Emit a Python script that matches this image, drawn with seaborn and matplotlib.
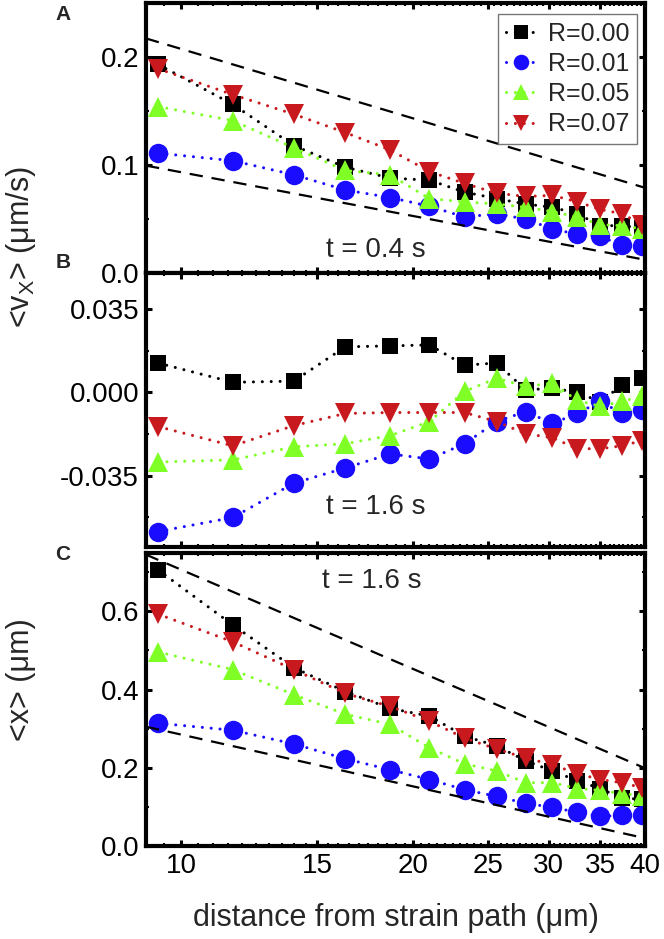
import numpy as np
import pandas as pd
import matplotlib
matplotlib.use('Agg')
import matplotlib.pyplot as plt
import seaborn as sns
from matplotlib.ticker import FixedLocator, MultipleLocator, NullFormatter, FixedFormatter

sns.set_style('ticks')
plt.rcParams['font.family'] = ['Liberation Sans', 'DejaVu Sans']
plt.rcParams['mathtext.fontset'] = 'custom'
plt.rcParams['mathtext.rm'] = 'Liberation Sans'
plt.rcParams['mathtext.it'] = 'Liberation Sans:italic'
plt.rcParams['axes.edgecolor'] = 'black'
plt.rcParams['xtick.color'] = 'black'
plt.rcParams['ytick.color'] = 'black'

# distanza dal percorso di deformazione (um)
distance = [9.33, 11.67, 14.0, 16.33, 18.67, 21.0, 23.33, 25.67, 28.0, 30.33, 32.67, 35.0, 37.33, 39.67]
r_labels = ['R=0.00', 'R=0.01', 'R=0.05', 'R=0.07']

# pannello A: <vx> a t = 0.4 s
vx_04_r000 = [0.193, 0.156, 0.118, 0.098, 0.088, 0.086, 0.075, 0.069, 0.064, 0.061, 0.055, 0.044, 0.044, 0.042]
vx_04_r001 = [0.111, 0.104, 0.091, 0.077, 0.070, 0.062, 0.052, 0.055, 0.050, 0.041, 0.036, 0.034, 0.026, 0.025]
vx_04_r005 = [0.154, 0.141, 0.116, 0.095, 0.091, 0.069, 0.066, 0.064, 0.061, 0.057, 0.052, 0.045, 0.044, 0.041]
vx_04_r007 = [0.189, 0.165, 0.147, 0.130, 0.114, 0.094, 0.083, 0.074, 0.071, 0.072, 0.066, 0.059, 0.055, 0.045]

# pannello B: <vx> a t = 1.6 s
vx_16_r000 = [0.0123, 0.0042, 0.0047, 0.0191, 0.0195, 0.0199, 0.0114, 0.0123, 0.0010, 0.0017, 0.0000, -0.0040, 0.0030, 0.0060]
vx_16_r001 = [-0.0585, -0.0526, -0.0382, -0.0318, -0.0259, -0.0280, -0.0216, -0.0123, -0.0081, -0.0131, -0.0089, -0.0038, -0.0089, -0.0076]
vx_16_r005 = [-0.0293, -0.0284, -0.0229, -0.0216, -0.0182, -0.0123, 0.0004, 0.0059, 0.0025, 0.0038, -0.0034, -0.0059, -0.0038, -0.0017]
vx_16_r007 = [-0.0144, -0.0225, -0.0140, -0.0089, -0.0085, -0.0085, -0.0085, -0.0123, -0.0174, -0.0191, -0.0237, -0.0237, -0.0225, -0.0203]

# pannello C: <x> a t = 1.6 s
x_16_r000 = [0.706, 0.565, 0.456, 0.395, 0.352, 0.332, 0.281, 0.256, 0.218, 0.192, 0.167, 0.147, 0.122, 0.120]
x_16_r001 = [0.314, 0.296, 0.261, 0.223, 0.195, 0.170, 0.144, 0.127, 0.109, 0.099, 0.086, 0.076, 0.078, 0.078]
x_16_r005 = [0.496, 0.451, 0.387, 0.337, 0.311, 0.251, 0.210, 0.192, 0.162, 0.162, 0.147, 0.142, 0.134, 0.129]
x_16_r007 = [0.593, 0.522, 0.451, 0.390, 0.357, 0.319, 0.276, 0.248, 0.225, 0.208, 0.185, 0.170, 0.162, 0.149]

# linee tratteggiate (inviluppo)
guide_x = [9, 40]
guide_A_upper = [0.217, 0.079]
guide_A_lower = [0.0995, 0.0125]
guide_C_upper = [0.745, 0.199]
guide_C_lower = [0.305, 0.020]

colori = ['#000000', '#1a0dff', '#80ff26', '#c81a1e']
marcatori = ['s', 'o', '^', 'v']
dimensioni = [12, 14, 15, 15]

fig = plt.figure(figsize=(6.64, 9.39), dpi=100)
left, width = 146 / 664, 499 / 664
axA = fig.add_axes([left, 1 - 273.3 / 939, width, 270.6 / 939])
axB = fig.add_axes([left, 1 - 547 / 939, width, 273.7 / 939])
axC = fig.add_axes([left, 1 - 846 / 939, width, 293.3 / 939])

pannelli = [
    (axA, [vx_04_r000, vx_04_r001, vx_04_r005, vx_04_r007]),
    (axB, [vx_16_r000, vx_16_r001, vx_16_r005, vx_16_r007]),
    (axC, [x_16_r000, x_16_r001, x_16_r005, x_16_r007]),
]

for ax, serie in pannelli:
    for vals, c, m, ms, lab in zip(serie, colori, marcatori, dimensioni, r_labels):
        sns.lineplot(x=distance, y=vals, ax=ax, color=c, marker=m, markersize=ms,
                     markeredgewidth=0, linestyle=(0, (0.01, 2.9)), linewidth=2.2,
                     dash_capstyle='round', label=lab, legend=False)

handles = axA.get_lines()[:4]

for ax, up, lo in [(axA, guide_A_upper, guide_A_lower), (axC, guide_C_upper, guide_C_lower)]:
    sns.lineplot(x=guide_x, y=up, ax=ax, color='k', linestyle=(0, (6, 4)), linewidth=1.6, legend=False)
    sns.lineplot(x=guide_x, y=lo, ax=ax, color='k', linestyle=(0, (6, 4)), linewidth=1.6, legend=False)

axA.set_ylim(0, 0.25)
axA.yaxis.set_major_locator(FixedLocator([0.0, 0.1, 0.2]))
axA.yaxis.set_major_formatter(FixedFormatter(['0.0', '0.1', '0.2']))
axA.yaxis.set_minor_locator(MultipleLocator(0.05))

axB.set_ylim(-0.065, 0.05)
axB.yaxis.set_major_locator(FixedLocator([-0.035, 0.0, 0.035]))
axB.yaxis.set_major_formatter(FixedFormatter(['-0.035', '0.000', '0.035']))
axB.yaxis.set_minor_locator(MultipleLocator(0.0175))

axC.set_ylim(0, 0.75)
axC.yaxis.set_major_locator(FixedLocator([0.0, 0.2, 0.4, 0.6]))
axC.yaxis.set_major_formatter(FixedFormatter(['0.0', '0.2', '0.4', '0.6']))
axC.yaxis.set_minor_locator(MultipleLocator(0.1))

xticks = [10, 15, 20, 25, 30, 35, 40]
for ax in [axA, axB, axC]:
    ax.set_xscale('log')
    ax.set_xlim(9, 40)
    ax.xaxis.set_major_locator(FixedLocator(xticks))
    ax.xaxis.set_minor_locator(MultipleLocator(0.5))
    ax.xaxis.set_minor_formatter(NullFormatter())
    if ax is axC:
        ax.xaxis.set_major_formatter(FixedFormatter([str(t) for t in xticks]))
    else:
        ax.xaxis.set_major_formatter(NullFormatter())
    for sp in ax.spines.values():
        sp.set_linewidth(3)
        sp.set_color('black')
        sp.set_visible(True)
    ax.tick_params(which='both', direction='in', top=True, right=True, color='k')
    ax.tick_params(which='major', length=4, width=2.2, labelsize=20, pad=5)
    ax.tick_params(which='minor', length=2.5, width=1.5)
    ax.set_xlabel('')
    ax.set_ylabel('')

axA.legend(handles=handles, labels=r_labels, loc='upper right', bbox_to_anchor=(0.984, 0.958),
           borderaxespad=0, fontsize=18, frameon=True, fancybox=False, edgecolor='#777777',
           framealpha=1, handlelength=1.2, handletextpad=0.5, labelspacing=0.25,
           borderpad=0.3, markerscale=0.8)
axA.get_legend().get_frame().set_linewidth(1)

axA.text(0.46, 0.086, 't = 0.4 s', transform=axA.transAxes, ha='center', va='center', fontsize=20)
axB.text(0.46, 0.145, 't = 1.6 s', transform=axB.transAxes, ha='center', va='center', fontsize=20)
axC.text(0.453, 0.904, 't = 1.6 s', transform=axC.transAxes, ha='center', va='center', fontsize=20)

fig.text(0.095, 1 - 14.5 / 939, 'A', ha='center', va='center', fontsize=15, fontweight='bold')
fig.text(0.095, 1 - 262 / 939, 'B', ha='center', va='center', fontsize=15, fontweight='bold')
fig.text(0.095, 1 - 555 / 939, 'C', ha='center', va='center', fontsize=15, fontweight='bold')

fig.text(21 / 664, 1 - 247 / 939, r'<v$_\mathrm{X}$> (μm/s)', rotation=90, ha='center', va='center', fontsize=22)
fig.text(21 / 664, 1 - 680 / 939, '<x> (μm)', rotation=90, ha='center', va='center', fontsize=22)
fig.text(396 / 664, 1 - 918 / 939, 'distance from strain path (μm)', ha='center', va='center', fontsize=22)

fig.savefig('out.png', dpi=100)
